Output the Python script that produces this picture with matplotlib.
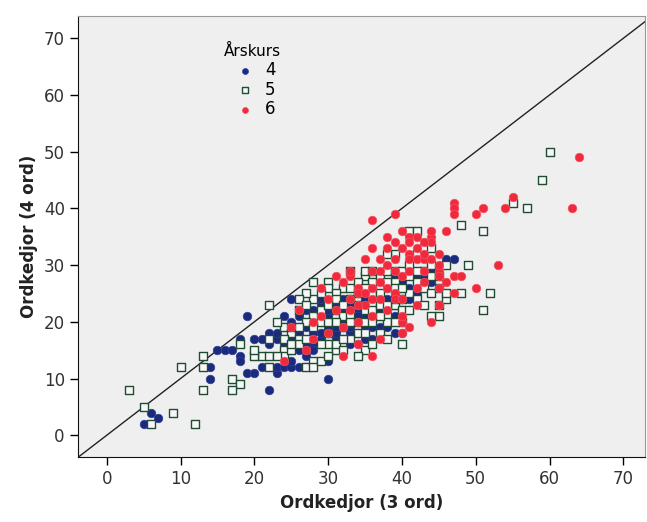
import matplotlib.pyplot as plt

# Årskurs 4 (filled navy circles)
g4_x = [5, 6, 7, 14, 14, 15, 16, 17, 18, 18, 18, 19, 19, 20, 20, 21, 22, 22, 23, 23,
        23, 23, 24, 24, 24, 25, 25, 25, 25, 25, 26, 26, 26, 26, 26, 27, 27, 27, 28, 28,
        28, 28, 29, 29, 29, 29, 30, 30, 30, 30, 30, 31, 31, 31, 31, 31, 32, 32, 32, 32,
        33, 33, 33, 33, 33, 34, 34, 34, 34, 35, 35, 35, 35, 35, 36, 36, 36, 36, 37, 37,
        37, 37, 38, 38, 38, 39, 39, 39, 40, 40, 40, 41, 41, 42, 42, 43, 44, 46, 47, 39,
        21, 22, 24, 25, 26, 27, 27, 28, 29, 29, 30, 30, 31, 31, 32, 32, 33, 33, 34, 34,
        35, 35, 36, 36, 37, 38, 38, 39, 40, 41, 42, 43, 44]
g4_y = [2, 4, 3, 12, 10, 15, 15, 15, 14, 13, 17, 21, 11, 11, 17, 12, 8, 18, 11, 12,
        17, 18, 19, 21, 12, 24, 17, 15, 12, 13, 17, 19, 21, 15, 12, 14, 12, 22, 20, 16,
        18, 15, 17, 23, 20, 24, 10, 18, 21, 19, 13, 20, 22, 17, 15, 23, 19, 21, 24, 17,
        21, 18, 16, 20, 23, 16, 20, 22, 25, 19, 21, 17, 24, 23, 17, 20, 22, 26, 19, 21,
        24, 18, 19, 22, 26, 21, 25, 28, 18, 27, 24, 26, 22, 28, 25, 26, 27, 31, 31, 18,
        17, 16, 16, 20, 18, 16, 19, 22, 18, 21, 16, 22, 18, 19, 20, 22, 19, 24, 18, 21,
        20, 22, 19, 24, 22, 20, 24, 23, 22, 24, 27, 28, 29]

# Årskurs 5 (open squares)
g5_x = [3, 5, 6, 9, 10, 12, 13, 13, 13, 17, 18, 17, 18, 21, 22, 60, 59, 55, 57, 48,
        51, 39, 49, 48, 52, 51, 45, 40, 20, 22, 24, 24, 24, 25, 26, 25, 26, 27, 28, 28,
        28, 28, 29, 30, 30, 30, 31, 31, 31, 32, 32, 33, 33, 33, 34, 34, 35, 35, 35, 35,
        36, 36, 36, 37, 37, 37, 38, 38, 38, 39, 39, 39, 40, 40, 40, 40, 41, 41, 41, 42,
        42, 42, 42, 43, 43, 44, 44, 44, 45, 45, 46, 46, 38, 36, 34, 32, 31, 30, 29, 27,
        26, 29, 33, 36, 34, 38, 40, 43, 37, 39, 41, 44, 27, 28, 35, 23, 23, 22, 20, 22,
        31, 32, 29, 30, 25, 26,
        24, 25, 26, 27, 27, 28, 29, 30, 30, 31, 32, 32, 33, 33, 34, 34, 35, 35, 36, 36,
        37, 37, 38, 38, 39, 39, 40, 41, 42, 43, 44, 45, 46]
g5_y = [8, 5, 2, 4, 12, 2, 14, 12, 8, 10, 9, 8, 16, 14, 23, 50, 45, 41, 40, 37,
        36, 32, 30, 25, 25, 22, 21, 16, 14, 14, 15, 14, 19, 18, 17, 15, 16, 12, 13, 12,
        24, 21, 20, 27, 26, 16, 15, 16, 22, 26, 21, 21, 29, 24, 23, 18, 28, 18, 15, 22,
        23, 25, 22, 18, 23, 28, 21, 29, 20, 29, 23, 24, 24, 28, 29, 20, 25, 36, 30, 36,
        32, 27, 24, 29, 26, 25, 21, 30, 26, 23, 24, 25, 32, 27, 20, 19, 25, 20, 16, 20,
        22, 25, 17, 16, 14, 17, 22, 23, 26, 27, 28, 28, 25, 27, 29, 20, 14, 17, 15, 12,
        24, 15, 13, 14, 19, 24,
        17, 16, 19, 17, 23, 19, 22, 23, 18, 20, 23, 17, 26, 20, 27, 25, 26, 20, 29, 20,
        21, 25, 27, 23, 26, 20, 26, 22, 29, 33, 33, 28, 30]

# Årskurs 6 (filled red circles)
g6_x = [64, 63, 55, 54, 51, 50, 47, 47, 47, 46, 53, 50, 36, 39, 40, 41, 41, 42, 44, 44,
        41, 42, 43, 43, 45, 45, 45, 45, 45, 40, 38, 37, 36, 34, 34, 33, 32, 29, 37, 36,
        39, 39, 40, 40, 40, 31, 32, 34, 36, 32, 27, 25, 24, 28, 30, 38, 39, 41, 43, 44,
        47, 46, 48, 42, 38, 35, 33, 31, 30, 35, 37, 39, 43, 36, 34, 42, 44, 41, 37, 33,
        26, 29, 28, 47, 35,
        33, 34, 36, 37, 38, 39, 40, 41, 42, 43, 44, 45, 38, 36, 40]
g6_y = [49, 40, 42, 40, 40, 39, 41, 40, 39, 36, 30, 26, 38, 39, 36, 35, 34, 33, 35, 34,
        32, 31, 31, 29, 32, 29, 28, 26, 23, 28, 26, 31, 29, 26, 25, 24, 27, 26, 24, 21,
        25, 24, 24, 20, 18, 22, 19, 16, 14, 14, 15, 19, 13, 20, 18, 33, 34, 31, 32, 36,
        28, 27, 28, 26, 22, 23, 22, 28, 24, 31, 27, 29, 27, 26, 20, 23, 20, 19, 17, 28,
        22, 21, 17, 25, 25,
        29, 23, 24, 29, 30, 31, 33, 29, 35, 34, 31, 30, 35, 33, 21]

fig = plt.figure(figsize=(6.47, 5.22), dpi=100)
ax = fig.add_axes([0.1206, 0.125, 0.877, 0.844])
ax.set_facecolor('#efefef')

ax.scatter(g4_x, g4_y, s=38, marker='o', color='#1b2a7a', edgecolors='#3040a0',
           linewidths=0.5, label='4', zorder=3)
ax.scatter(g5_x, g5_y, s=36, marker='s', facecolors='#f7f7f7', edgecolors='#1f4d33',
           linewidths=1.0, label='5', zorder=4)
ax.scatter(g6_x, g6_y, s=38, marker='o', color='#f02a3c', edgecolors='#f55060',
           linewidths=0.5, label='6', zorder=5)

ax.axline((0, 0), slope=1, color='#222222', linewidth=1.0, zorder=2)

ax.set_xlim(-3.9, 73)
ax.set_ylim(-3.8, 73.9)
ticks = [0, 10, 20, 30, 40, 50, 60, 70]
ax.set_xticks(ticks)
ax.set_yticks(ticks)
ax.tick_params(direction='out', length=6, width=1, labelsize=12, labelcolor='#333333')

for side in ['top', 'right']:
    ax.spines[side].set_color('#999999')
for side in ['left', 'bottom']:
    ax.spines[side].set_color('#111111')

ax.set_xlabel('Ordkedjor (3 ord)', fontsize=12, fontweight='bold', color='#222222')
ax.set_ylabel('Ordkedjor (4 ord)', fontsize=12, fontweight='bold', color='#222222')

leg = ax.legend(title='Årskurs', loc='upper left', bbox_to_anchor=(0.23, 0.97),
                frameon=False, fontsize=12, title_fontsize=11, handletextpad=0.2,
                labelspacing=0.1, markerscale=0.7)

fig.savefig('out.png', dpi=100)
